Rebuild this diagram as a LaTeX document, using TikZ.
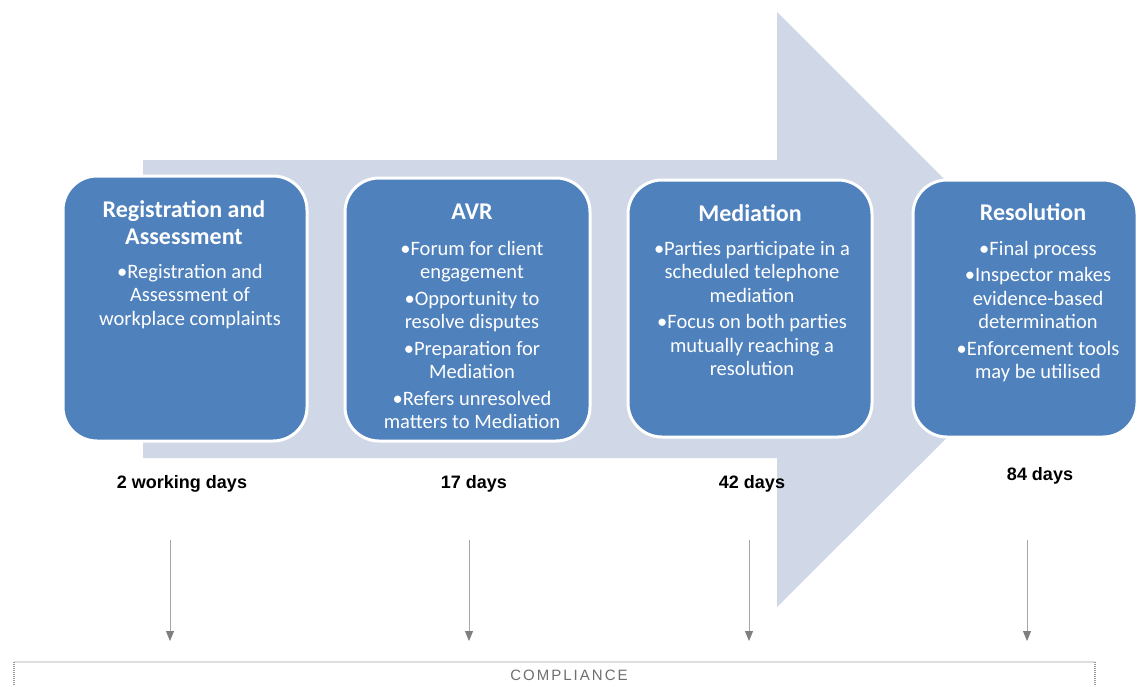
\documentclass[tikz,border=0pt]{standalone}
\usepackage{fontspec}
\setmainfont{Carlito}
\newfontfamily\daysfont{Liberation Sans}
\usetikzlibrary{arrows.meta}
\definecolor{boxblue}{HTML}{4F81BD}
\definecolor{arrowbg}{HTML}{D0D8E8}
\definecolor{tickgray}{HTML}{A6A6A6}
\definecolor{headgray}{HTML}{7F7F7F}
\definecolor{compgray}{HTML}{6F6F6F}
\tikzset{
  stagebox/.style={draw=white, line width=3pt, fill=boxblue, rounded corners=34pt, inner sep=0pt},
  stagetitle/.style={text=white, align=center, inner sep=0pt, anchor=north, font=\fontsize{24}{27}\selectfont\bfseries},
  stagebody/.style={text=white, align=center, inner sep=0pt, anchor=north, font=\fontsize{20.5}{23.5}\selectfont},
  daylabel/.style={inner sep=0pt, font=\daysfont\fontsize{18}{20}\selectfont\bfseries},
  tick/.style={draw=tickgray, line width=0.8pt, -{Triangle[width=8pt,length=10pt,color=headgray,fill=headgray]}},
}
\begin{document}
\begin{tikzpicture}[x=1pt,y=-1pt]
\useasboundingbox (0,0) rectangle (1139,686);
% big background arrow
\fill[arrowbg] (143,160) -- (777,160) -- (777,12) -- (1075,310) -- (777,607) -- (777,458) -- (143,458) -- cycle;
% stage boxes
\node[stagebox, minimum width=244pt, minimum height=265pt] (b1) at (185,308.5) {};
\node[stagebox, minimum width=245pt, minimum height=263pt] (b2) at (467.5,309.5) {};
\node[stagebox, minimum width=244pt, minimum height=257pt] (b3) at (750,308.5) {};
\node[stagebox, minimum width=224pt, minimum height=257pt] (b4) at (1025,308.5) {};
% titles
\node[stagetitle] (t1) at (184,200) {Registration and\\Assessment};
\node[stagetitle] (t2) at (472,204) {AVR};
\node[stagetitle] (t3) at (750,204) {Mediation};
\node[stagetitle] (t4) at (1033,203) {Resolution};
% bodies
\node[stagebody] (c1) at (190,264) {•Registration and\\Assessment of\\workplace complaints};
\node[stagebody] (c2) at (472,241) {•Forum for client\\engagement\\[3pt]•Opportunity to\\resolve disputes\\[3pt]•Preparation for\\Mediation\\[3pt]•Refers unresolved\\matters to Mediation};
\node[stagebody] (c3) at (752,241) {•Parties participate in a\\scheduled telephone\\mediation\\[3pt]•Focus on both parties\\mutually reaching a\\resolution};
\node[stagebody] (c4) at (1038,241) {•Final process\\[3pt]•Inspector makes\\evidence-based\\determination\\[3pt]•Enforcement tools\\may be utilised};
% day labels
\node[daylabel] (d1) at (182,484) {2 working days};
\node[daylabel] (d2) at (474,484) {17 days};
\node[daylabel] (d3) at (752,484) {42 days};
\node[daylabel] (d4) at (1040,476) {84 days};
% downward ticks
\coordinate (s1) at (170,540); \coordinate (e1) at (170,641);
\coordinate (s2) at (469,540); \coordinate (e2) at (469,641);
\coordinate (s3) at (749,540); \coordinate (e3) at (749,641);
\coordinate (s4) at (1027,540); \coordinate (e4) at (1027,641);
\draw[tick] (s1) -- (e1);
\draw[tick] (s2) -- (e2);
\draw[tick] (s3) -- (e3);
\draw[tick] (s4) -- (e4);
% compliance bracket
\coordinate (cl) at (14,662); \coordinate (cr) at (1095,662);
\coordinate (cl2) at (14,686); \coordinate (cr2) at (1095,686);
\draw[draw=black!13, line width=2pt] (cl) -- (cr);
\draw[draw=black!40, line width=1.5pt, dash pattern=on 1pt off 1pt] (cl) -- (cl2);
\draw[draw=black!40, line width=1.5pt, dash pattern=on 1pt off 1pt] (cr) -- (cr2);
\node[inner sep=0pt, text=compgray, font=\daysfont\fontsize{15}{17}\selectfont] (comp) at (569,675) {C\kern2pt O\kern2pt M\kern2pt P\kern2pt L\kern2pt I\kern2pt A\kern2pt N\kern2pt C\kern2pt E};
\end{tikzpicture}
\end{document}
